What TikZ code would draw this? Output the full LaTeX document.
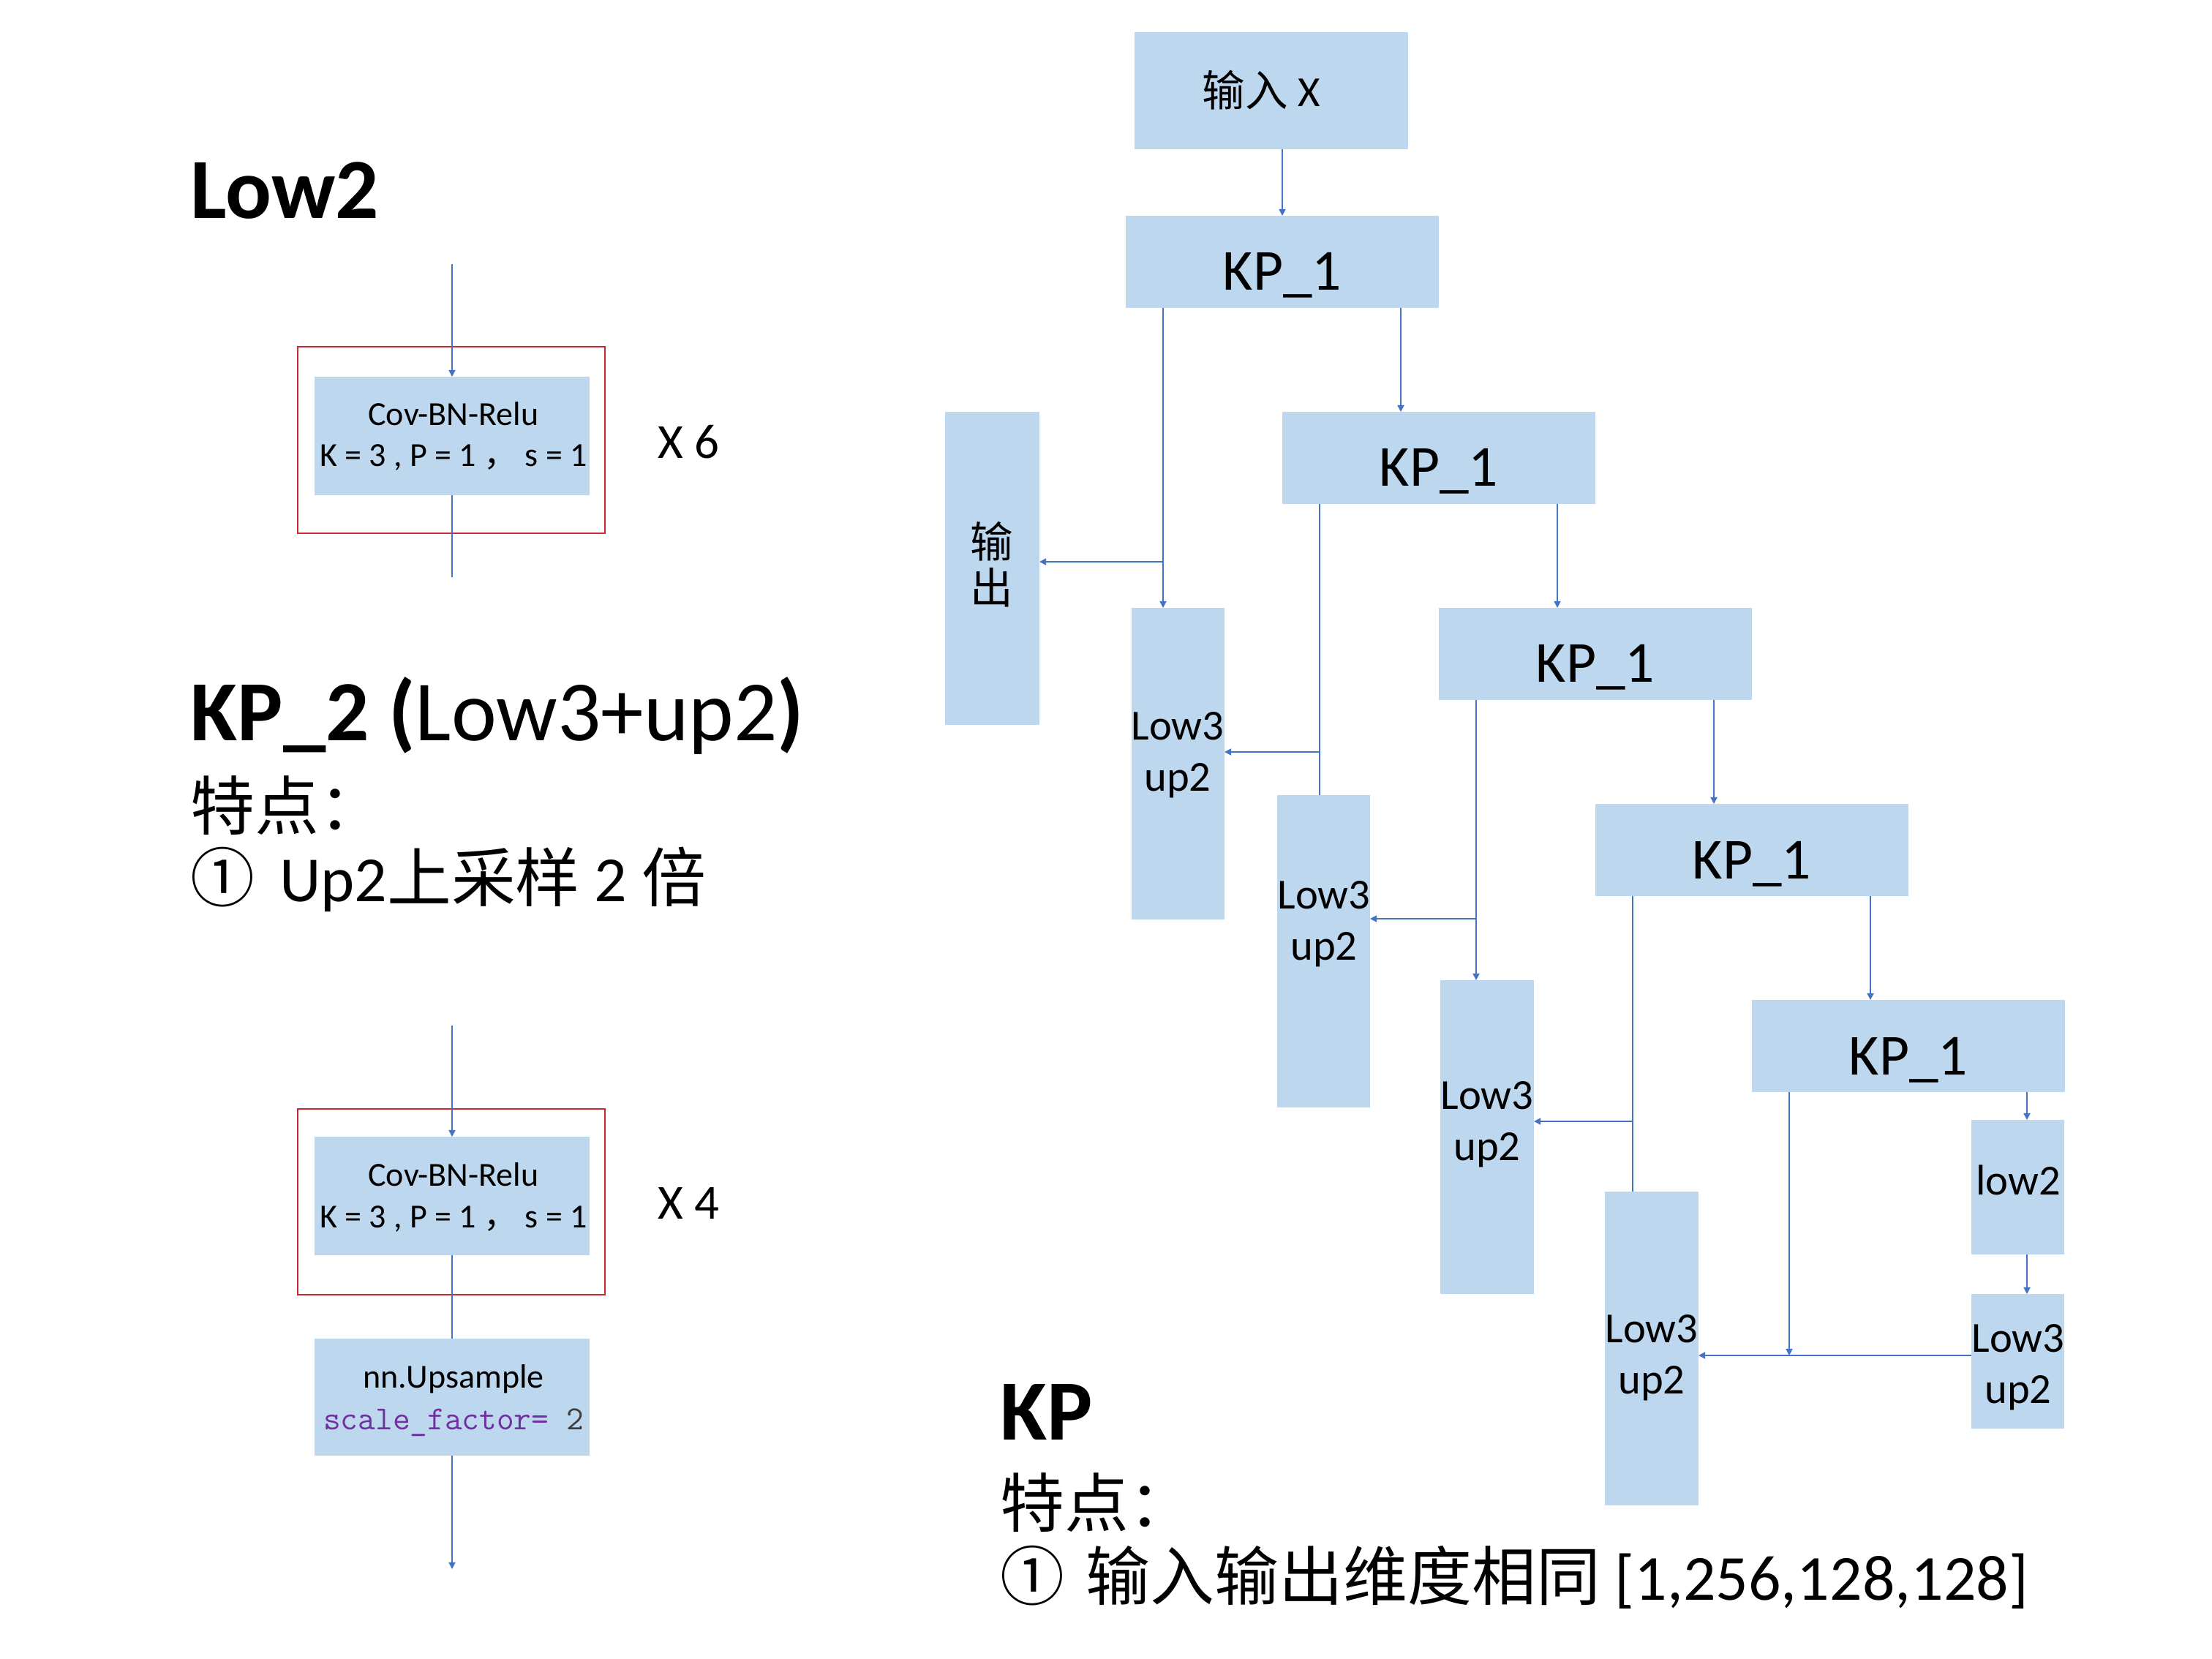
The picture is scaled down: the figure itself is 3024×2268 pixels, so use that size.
\documentclass[tikz,border=0pt]{standalone}
\usepackage{fontspec}
\setmainfont{Carlito}
\newfontfamily\cjk{Noto Sans CJK SC}
\usetikzlibrary{arrows.meta,fit,calc}
\definecolor{boxblue}{RGB}{189,215,238}
\definecolor{lineblue}{RGB}{68,114,196}
\definecolor{redframe}{RGB}{204,40,48}
\definecolor{codepurple}{RGB}{112,48,160}
\definecolor{codegray}{RGB}{60,60,60}
\newcommand{\cj}{\fontsize{21}{25}\selectfont\cjk}
\begin{document}
\begin{tikzpicture}[x=0.0839947mm,y=-0.0839947mm,
  box/.style={fill=boxblue, inner sep=0pt, outer sep=0pt},
  ln/.style={draw=lineblue, line width=0.4pt},
  arr/.style={ln, -{Triangle[length=2.2pt,width=2.2pt]}},
  frame/.style={draw=redframe, line width=0.45pt, inner sep=0pt, outer sep=0pt},
  small/.style={font=\fontsize{11}{13.6}\selectfont, anchor=base, inner sep=0pt},
  mid/.style={font=\fontsize{16}{19}\selectfont, inner sep=0pt},
  kp/.style={font=\fontsize{19}{23}\selectfont, anchor=base, inner sep=0pt},
  lt/.style={font=\fontsize{14}{16.8}\selectfont, align=center, inner sep=0pt},
  ltb/.style={font=\fontsize{14}{16.8}\selectfont, anchor=base, inner sep=0pt},
  title/.style={font=\fontsize{28}{33.6}\selectfont, anchor=base west, inner sep=0pt},
  body/.style={font=\fontsize{21}{25}\selectfont, anchor=base west, inner sep=0pt}]
\useasboundingbox (0,0) rectangle (3024,2268);
\fill[white] (0,0) rectangle (3024,2268);

% ---------------- left: Low2 ----------------
\node[title] (t1) at (260,299) {\bfseries Low2};
\node[frame, fit={(407,474) (827,729)}] (r1) {};
\node[box, fit={(430,515) (806,677)}] (c1) {};
\node[small] (c1a) at (620,582) {Cov-BN-Relu};
\node[small] (c1b) at (620,638) {K = 3 , P = 1 \smash{\cjk ，} s = 1};
\coordinate (a1) at (618,361);
\coordinate (e1) at (618,789);
\draw[arr] (a1) -- (c1.north);
\draw[ln] (c1.south) -- (e1);
\node[mid, anchor=base west] (x6) at (899,627) {X 6};

% ---------------- left: KP_2 ----------------
\node[title] (t2) at (260,1012) {\textbf{KP\_2 (}Low3+up2\textbf{)}};
\node[body] (t3) at (260,1134) {{\cj 特点：}};
\node[body] (t4) at (260,1232) {{\cj ①}\hspace{8pt}Up2{\cj 上采样} 2 {\cj 倍}};

\node[frame, fit={(407,1516) (827,1770)}] (r2) {};
\node[box, fit={(430,1554) (806,1716)}] (c2) {};
\node[small] (c2a) at (620,1621) {Cov-BN-Relu};
\node[small] (c2b) at (620,1678) {K = 3 , P = 1 \smash{\cjk ，} s = 1};
\node[box, fit={(430,1830) (806,1990)}] (up) {};
\node[small] (upa) at (620,1897) {nn.Upsample};
\node[small] (upb) at (620,1954) {\ttfamily\textcolor{codepurple}{scale\_factor= }\textcolor{codegray}{2}};
\coordinate (a2) at (618,1402);
\coordinate (e2) at (618,2145);
\draw[arr] (a2) -- (c2.north);
\draw[ln] (c2.south) -- (up.north);
\draw[arr] (up.south) -- (e2);
\node[mid, anchor=base west] (x4) at (899,1666) {X 4};

% ---------------- right: KP tree ----------------
\node[box, fit={(1551,44) (1925,204)}] (in) {};
\node[ltb] (int) at (1724,146) {{\cjk 输入} X};

\node[box, fit={(1539,295) (1967,421)}] (k1) {};
\node[box, fit={(1753,563) (2181,689)}] (k2) {};
\node[box, fit={(1967,831) (2395,957)}] (k3) {};
\node[box, fit={(2181,1099) (2609,1225)}] (k4) {};
\node[box, fit={(2395,1367) (2823,1493)}] (k5) {};
\node[kp] (k1t) at (1753,397) {KP\_1};
\node[kp] (k2t) at (1967,665) {KP\_1};
\node[kp] (k3t) at (2181,933) {KP\_1};
\node[kp] (k4t) at (2395,1201) {KP\_1};
\node[kp] (k5t) at (2609,1469) {KP\_1};

\node[box, fit={(1292,563) (1421,991)}] (out) {};
\node[ltb] (o1) at (1356,763) {\cjk 输};
\node[ltb] (o2) at (1356,825) {\cjk 出};

\node[box, fit={(1547,831) (1674,1257)}] (l1) {};
\node[box, fit={(1746,1087) (1873,1514)}] (l2) {};
\node[box, fit={(1969,1340) (2097,1769)}] (l3) {};
\node[box, fit={(2194,1629) (2322,2058)}] (l4) {};
\node[box, fit={(2695,1531) (2822,1715)}] (lw) {};
\node[box, fit={(2695,1769) (2822,1953)}] (s3) {};
\node[lt] (l1t) at (1610,1032) {Low3\\up2};
\node[lt] (l2t) at (1810,1263) {Low3\\up2};
\node[lt] (l3t) at (2033,1537) {Low3\\up2};
\node[lt] (l4t) at (2258,1856) {Low3\\up2};
\node[lt] (s3t) at (2759,1869) {Low3\\up2};
\node[ltb] (lwt) at (2759,1633) {low2};

% line start points under each KP_1 box
\coordinate (k1l) at ($(k1.south west)+(51,0)$);
\coordinate (k1r) at ($(k1.south west)+(376,0)$);
\coordinate (k2l) at ($(k2.south west)+(51,0)$);
\coordinate (k2r) at ($(k2.south west)+(376,0)$);
\coordinate (k3l) at ($(k3.south west)+(51,0)$);
\coordinate (k3r) at ($(k3.south west)+(376,0)$);
\coordinate (k4l) at ($(k4.south west)+(51,0)$);
\coordinate (k4r) at ($(k4.south west)+(376,0)$);
\coordinate (k5l) at ($(k5.south west)+(51,0)$);
\coordinate (k5r) at ($(k5.south west)+(376,0)$);
% junctions
\coordinate (j1) at (1590,768);
\coordinate (j2) at (1804,1028);
\coordinate (j3) at (2018,1256);
\coordinate (j4) at (2232,1533);
\coordinate (h5) at (2695,1853);

\draw[arr] (in.south -| k1.north) -- (k1.north);
\draw[arr] (k1r) -- (k1r |- k2.north);
\draw[arr] (k1l) -- (k1l |- l1.north);
\draw[arr] (j1) -- (j1 -| out.east);
\draw[ln]  (k2l) -- (k2l |- l2.north);
\draw[arr] (j2) -- (j2 -| l1.east);
\draw[arr] (k2r) -- (k2r |- k3.north);
\draw[arr] (k3l) -- (k3l |- l3.north);
\draw[arr] (j3) -- (j3 -| l2.east);
\draw[arr] (k3r) -- (k3r |- k4.north);
\draw[ln]  (k4l) -- (k4l |- l4.north);
\draw[arr] (j4) -- (j4 -| l3.east);
\draw[arr] (k4r) -- (k4r |- k5.north);
\draw[arr] (k5r) -- (k5r |- lw.north);
\draw[arr] (lw.south -| k5r) -- (s3.north -| k5r);
\draw[arr] (k5l) -- (k5l |- h5);
\draw[arr] (h5) -- (h5 -| l4.east);

% ---------------- bottom right: KP ----------------
\node[title] (t5) at (1367,1968) {\bfseries KP};
\node[body] (t6) at (1367,2087) {{\cj 特点：}};
\node[body] (t7) at (1367,2187) {{\cj ①}\hspace{7pt}{\cj 输入输出维度相同} [1,256,128,128]};
\end{tikzpicture}
\end{document}
